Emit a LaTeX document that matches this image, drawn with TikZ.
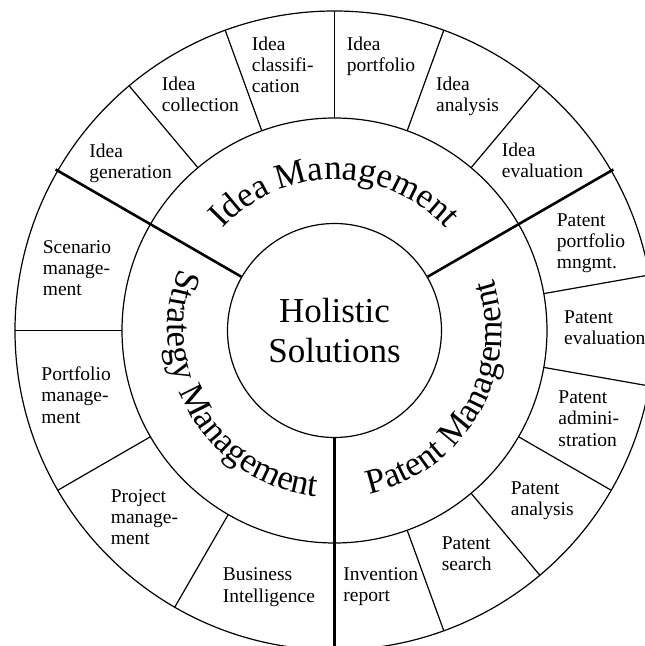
\documentclass[tikz,border=0pt]{standalone}
\usepackage{fontspec}
\setmainfont{Liberation Serif}
\usetikzlibrary{decorations.text}
\newcommand{\smallsz}{\fontsize{19.5}{21.2}\selectfont}
\newcommand{\bigsz}{\fontsize{35}{40.6}\selectfont}
\begin{document}
\begin{tikzpicture}[x=1pt,y=1pt,
  thinline/.style={line width=1.2pt},
  thickline/.style={line width=2.6pt},
  item/.style={anchor=north west, inner sep=0pt, align=left, font=\smallsz},
  arclabel/.style={decorate, decoration={text along path, text align=center, text={|\bigsz|#1}}}]
\clip (-334.5,-315.5) rectangle (310.5,330.5);
% rings
\draw[thinline] (0,0) circle[radius=319.5];
\draw[thinline] (0,0) circle[radius=212.5];
\node[circle, draw, thinline, minimum size=214pt, inner sep=0pt, font=\bigsz, align=center] (hub) at (0,0) {Holistic\\Solutions};
% outer ends of the main dividers
\coordinate (o30) at (30:322);
\coordinate (o150) at (150:322);
\coordinate (o270) at (270:322);
\draw[thickline] (hub.30) -- (o30);
\draw[thickline] (hub.150) -- (o150);
\draw[thickline] (hub.270) -- (o270);
% thin dividers of the outer ring
\foreach \a in {130,110,90,70,50,10,-10,-30,-50,-70,180,210,240}
  \draw[thinline] (\a:212.5) -- (\a:319.5);
% curved labels
\path[arclabel={Idea Management}] (150:151) arc[start angle=150, end angle=30, radius=151];
\path[arclabel={Strategy Management}] (151:167) arc[start angle=151, end angle=271, radius=167];
\path[arclabel={Patent Management}] (-90:167) arc[start angle=-90, end angle=30, radius=167];
% outer ring items
\node[item] (i1) at (-245.2,186.8) {Idea\\generation};
\node[item] (i2) at (-172.8,253.8) {Idea\\collection};
\node[item] (i3) at (-82.8,293.8) {Idea\\classifi-\\cation};
\node[item] (i4) at (12.2,293.8) {Idea\\portfolio};
\node[item] (i5) at (101.5,253.8) {Idea\\analysis};
\node[item] (i6) at (167.2,187.8) {Idea\\evaluation};
\node[item] (p1) at (222.2,117.1) {Patent\\portfolio\\mngmt.};
\node[item] (p2) at (229.5,19.8) {Patent\\evaluation};
\node[item] (p3) at (223.8,-60.2) {Patent\\admini-\\stration};
\node[item] (p4) at (176.2,-151.2) {Patent\\analysis};
\node[item] (p5) at (107.2,-206.2) {Patent\\search};
\node[item] (p6) at (8.8,-236.9) {Invention\\report};
\node[item] (s1) at (-291.8,90.5) {Scenario\\manage-\\ment};
\node[item] (s2) at (-293.2,-36.2) {Portfolio\\manage-\\ment};
\node[item] (s3) at (-223.8,-158.9) {Project\\manage-\\ment};
\node[item] (s4) at (-111.8,-237.2) {Business\\Intelligence};
\end{tikzpicture}
\end{document}
